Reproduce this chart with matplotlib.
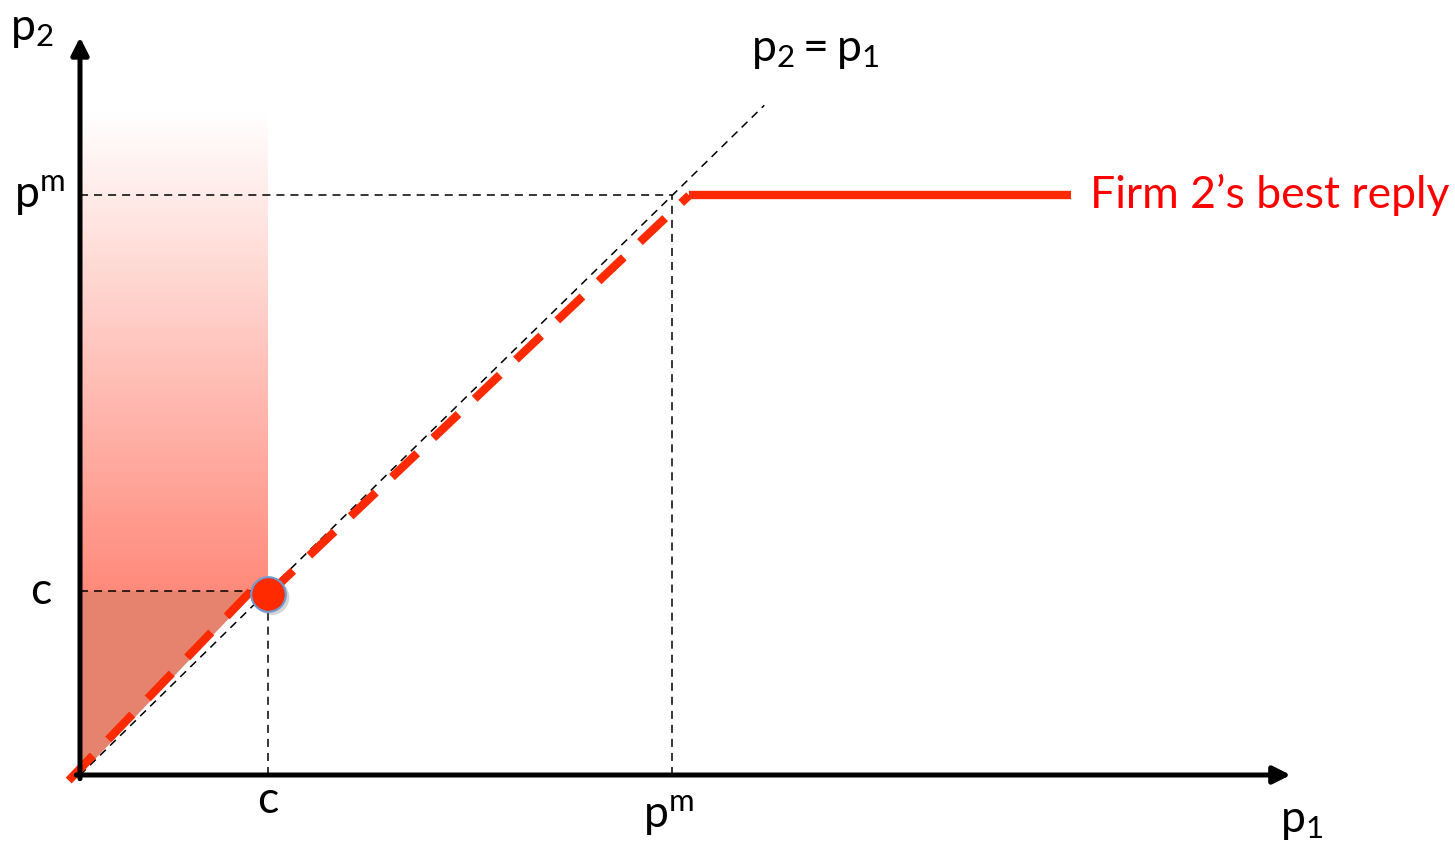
import numpy as np
import matplotlib
matplotlib.use('Agg')
import matplotlib.pyplot as plt
from matplotlib.patches import Polygon

plt.rcParams['font.family'] = ['Lato', 'DejaVu Sans']
plt.rcParams['mathtext.fontset'] = 'custom'
plt.rcParams['mathtext.rm'] = 'Lato'
plt.rcParams['mathtext.it'] = 'Lato'
plt.rcParams['lines.scale_dashes'] = False

# values (in units of c)
c = 1.0
pm = 3.15
x_axis_end = 6.44
y_axis_end = 4.01
diag_end = 3.64
shade_top = 3.60

# best reply pieces
reply_lo_x = [-0.06, 0.91]
reply_lo_y = [-0.03, 1.00]
reply_mid_x = [c, pm + 0.09]
reply_mid_y = [c - 0.02, pm]
reply_hi_x = [pm + 0.09, 5.27]
reply_hi_y = [pm, pm]

red = '#FF2A00'

fig = plt.figure(figsize=(14.55, 8.43), dpi=100)
ax = fig.add_axes([0, 0, 1, 1])
ax.set_xlim(-80 / 188, 1375 / 188)
ax.set_ylim(-68 / 184, 775 / 184)
ax.axis('off')

# gradient shading above c
n = 200
a = np.linspace(0.75, 0.0, n)[:, None]
base = np.array([1.0, 0.39, 0.31])
img = np.ones((n, 1, 3)) * (1 - a[..., None]) + base * a[..., None]
ax.imshow(img, extent=[0, c, c, shade_top], origin='lower', aspect='auto',
          interpolation='bilinear', zorder=1)
# lower triangle
ax.add_patch(Polygon([(0, 0), (0, c), (0.93, c)], closed=True,
                     facecolor='#E5836F', edgecolor='none', zorder=1))

# thin dashed guides
kw = dict(color='k', lw=1.1, dashes=(5.8, 4.3), zorder=2)
ax.plot([0, c], [c, c], **kw)
ax.plot([c, c], [0, c], **kw)
ax.plot([0, pm], [pm, pm], **kw)
ax.plot([pm, pm], [0, pm], **kw)
ax.plot([0, diag_end], [0, diag_end], **kw)

# best reply
ax.plot(reply_lo_x, reply_lo_y, color=red, lw=6, dashes=(25, 16),
        dash_capstyle='butt', zorder=3)
ax.plot(reply_mid_x, reply_mid_y, color=red, lw=6, dashes=(25, 16),
        dash_capstyle='butt', zorder=3)
ax.plot(reply_hi_x, reply_hi_y, color=red, lw=6, solid_capstyle='butt', zorder=3)

# dot
ax.scatter([c + 0.02], [c - 0.035], s=640, color='#888888', alpha=0.35,
           edgecolors='none', zorder=4)
ax.scatter([c], [c - 0.015], s=620, color=red, edgecolors='#6B9BD1',
           linewidths=1.5, zorder=5)

# axes
arw = dict(arrowstyle='-|>', lw=3.6, color='k', mutation_scale=26,
           shrinkA=0, shrinkB=0)
ax.annotate('', xy=(0, y_axis_end), xytext=(0, -0.02), arrowprops=arw, zorder=6)
ax.annotate('', xy=(x_axis_end, 0), xytext=(-0.02, 0), arrowprops=arw, zorder=6)

fs = 32
ax.text(-0.37, 4.05, r'$\mathrm{p}_2$', fontsize=fs, ha='left', va='center')
ax.text(-0.08, pm, r'$\mathrm{p}^\mathrm{m}$', fontsize=fs, ha='right', va='center')
ax.text(-0.15, c, 'c', fontsize=fs, ha='right', va='center')
ax.text(c, -0.14, 'c', fontsize=fs, ha='center', va='center')
ax.text(pm - 0.02, -0.22, r'$\mathrm{p}^\mathrm{m}$', fontsize=fs, ha='center', va='center')
ax.text(6.5, -0.25, r'$\mathrm{p}_1$', fontsize=fs, ha='center', va='center')
ax.text(3.57, 3.94, r'$\mathrm{p}_2 = \mathrm{p}_1$', fontsize=fs, ha='left', va='center')
ax.text(5.37, pm, 'Firm 2\u2019s best reply', fontsize=fs, color='#FF0000',
        ha='left', va='center')

fig.savefig('out.png', dpi=100)
